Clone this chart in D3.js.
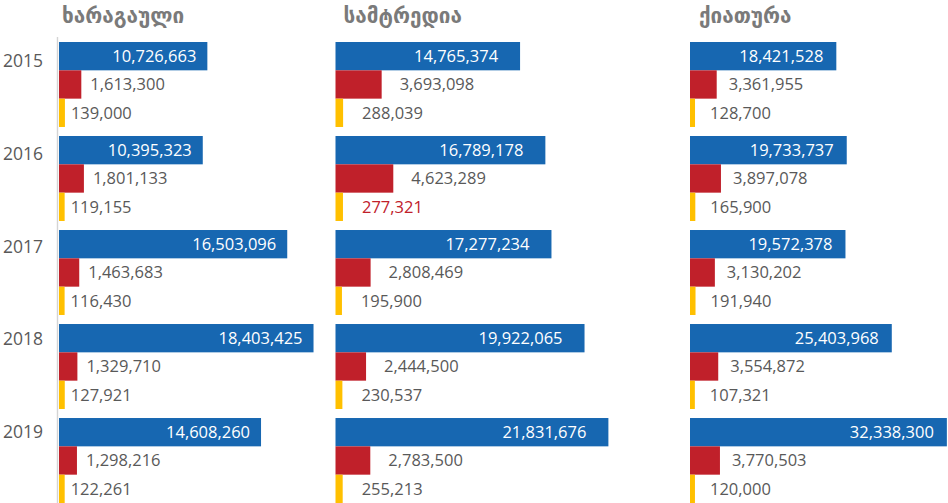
<!DOCTYPE html>
<html>
<head>
<meta charset="utf-8">
<script src="https://cdn.jsdelivr.net/npm/d3@7"></script>
<style>
  body { margin: 0; background: #fff; }
  svg { display: block; }
</style>
</head>
<body>
<div id="chart"></div>
<script>
// Data
const years = ['2015', '2016', '2017', '2018', '2019'];
const titles = ['ხარაგაული', 'სამტრედია', 'ქიათურა'];

const kharagauliBlue   = [10726663, 10395323, 16503096, 18403425, 14608260];
const kharagauliRed    = [1613300, 1801133, 1463683, 1329710, 1298216];
const kharagauliYellow = [139000, 119155, 116430, 127921, 122261];

const samtrediaBlue   = [14765374, 16789178, 17277234, 19922065, 21831676];
const samtrediaRed    = [3693098, 4623289, 2808469, 2444500, 2783500];
const samtrediaYellow = [288039, 277321, 195900, 230537, 255213];

const chiaturaBlue   = [18421528, 19733737, 19572378, 25403968, 32338300];
const chiaturaRed    = [3361955, 3897078, 3130202, 3554872, 3770503];
const chiaturaYellow = [128700, 165900, 191940, 107321, 120000];

// axis maximum of each small chart
const axisMax = [20000000, 25000000, 35000000];

// the one label shown in red
const highlight = { panel: 1, year: '2016', series: 2 };

const panelData = [
  [kharagauliBlue, kharagauliRed, kharagauliYellow],
  [samtrediaBlue, samtrediaRed, samtrediaYellow],
  [chiaturaBlue, chiaturaRed, chiaturaYellow]
];

// Layout / style
var width = 948, height = 503;
const colors = ['#1767b1', '#c0202a', '#ffc000'];
const textGrey = '#595959';
const panelLeft = [59, 335.5, 690];
const panelWidth = [276.6, 312.5, 278];
const labelGap = [[11, 9, 6], [22, 18, 19], [13, 12, 15]]; // inside-end for blue, outside for others
const yellowPad = 4;
const fmt = d3.format(',');

const svg = d3.select('#chart').append('svg')
  .attr('width', width)
  .attr('height', height);

const y = d3.scaleBand()
  .domain(years)
  .range([42, 503])
  .paddingInner(0.096);

const ys = d3.scaleBand()
  .domain([0, 1, 2])
  .range([0, y.bandwidth()]);

// the year labels sit on their own, slightly tighter, spacing
const yLabel = d3.scalePoint()
  .domain(years)
  .range([61.5, 432.5]);

// year labels
svg.append('g').selectAll('text')
  .data(years)
  .enter().append('text')
  .attr('x', 43)
  .attr('y', d => yLabel(d) + 1)
  .attr('text-anchor', 'end')
  .attr('dominant-baseline', 'middle')
  .style('font-family', '"Open Sans", sans-serif')
  .style('font-size', '17.5px')
  .style('fill', textGrey)
  .text(d => d);

// axis line of first chart
svg.append('line')
  .attr('x1', 57.5).attr('x2', 57.5)
  .attr('y1', 37).attr('y2', 503)
  .style('stroke', '#d4d4d4')
  .style('stroke-width', 1.4);

panelData.forEach(function(series, p) {
  var x = d3.scaleLinear()
    .domain([0, axisMax[p]])
    .range([panelLeft[p], panelLeft[p] + panelWidth[p]]);

  var g = svg.append('g');

  // title
  g.append('text')
    .attr('x', panelLeft[p] + [3, 8, 9][p])
    .attr('y', 23)
    .style('font-family', '"DejaVu Sans", sans-serif')
    .style('font-weight', 'bold')
    .style('font-size', '20.7px')
    .style('fill', '#7a7a7a')
    .text(titles[p]);

  series.forEach(function(values, s) {
    var rows = values.map((v, i) => ({ year: years[i], value: v }));

    g.append('g').selectAll('rect')
      .data(rows)
      .enter().append('rect')
      .attr('x', x(0))
      .attr('y', d => y(d.year) + ys(s))
      .attr('width', d => x(d.value) - x(0) + (s == 2 ? yellowPad : 0))
      .attr('height', ys.bandwidth())
      .style('fill', colors[s]);

    g.append('g').selectAll('text')
      .data(rows)
      .enter().append('text')
      .attr('x', function(d) {
        var end = x(d.value) + (s == 2 ? yellowPad : 0);
        return s == 0 ? end - labelGap[p][s] : end + labelGap[p][s];
      })
      .attr('y', d => y(d.year) + ys(s) + ys.bandwidth() / 2 + 1.5)
      .attr('text-anchor', s == 0 ? 'end' : 'start')
      .attr('dominant-baseline', 'middle')
      .style('font-family', '"Open Sans", sans-serif')
      .style('font-size', '16.5px')
      .style('fill', function(d) {
        if (s == 0) return '#fff';
        if (p == highlight.panel && d.year == highlight.year && s == highlight.series) return colors[1];
        return textGrey;
      })
      .text(d => fmt(d.value));
  });
});
</script>
</body>
</html>
